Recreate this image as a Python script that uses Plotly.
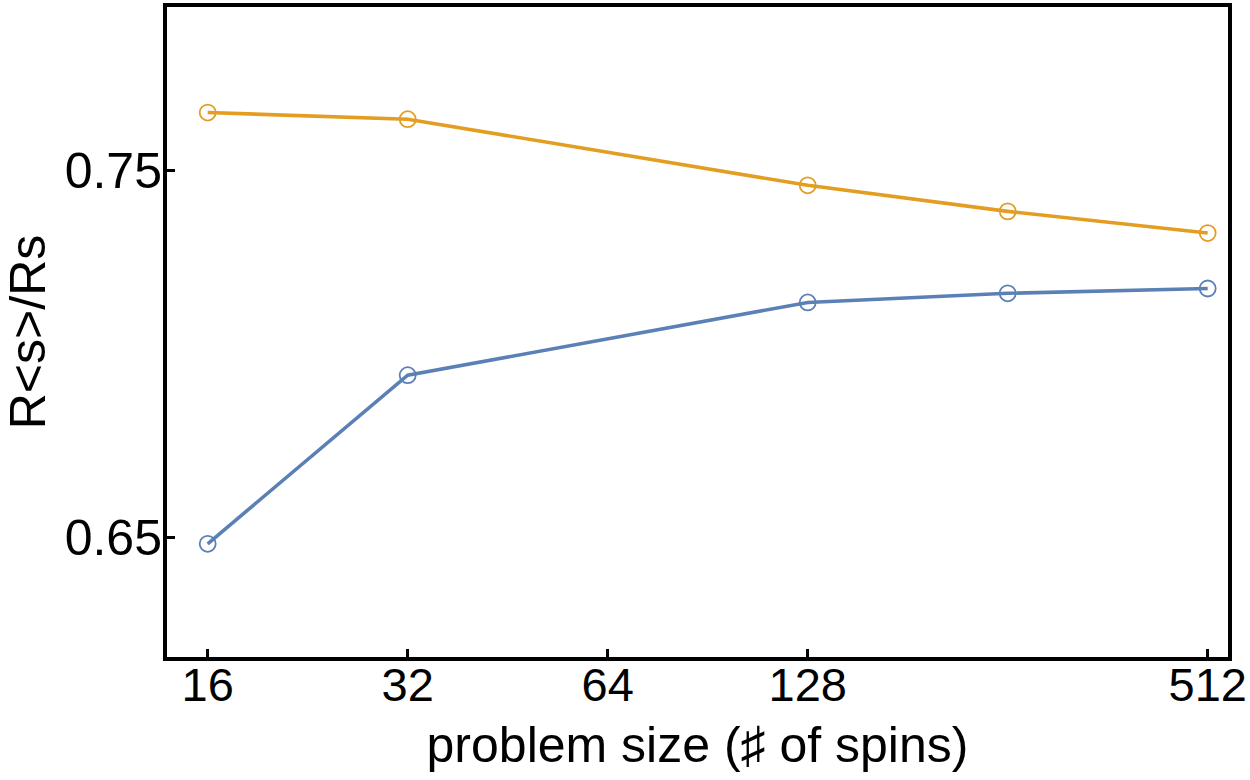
import math
import plotly.graph_objects as go

sizes = [16, 32, 128, 256, 512]
orange_vals = [0.7657, 0.7639, 0.7459, 0.7388, 0.7329]
blue_vals = [0.6483, 0.6942, 0.7140, 0.7165, 0.7178]
x_tickvals = [16, 32, 64, 128, 512]
x_ticktext = ["16", "32", "64", "128", "512"]
y_tickvals = [0.65, 0.75]
y_ticktext = ["0.65", "0.75"]

orange = "#E39E21"
blue = "#5B80B6"
font = "Liberation Sans, Arial, sans-serif"

fig = go.Figure()
for vals, col in [(orange_vals, orange), (blue_vals, blue)]:
    fig.add_trace(go.Scatter(
        x=sizes, y=vals, mode="lines+markers",
        line=dict(color=col, width=3.6),
        marker=dict(symbol="circle-open", size=16, color=col, line=dict(width=1.8, color=col)),
        showlegend=False,
    ))

fig.update_layout(
    width=1250, height=780,
    margin=dict(l=167, r=22, t=3, b=123),
    paper_bgcolor="white", plot_bgcolor="white",
    font=dict(family=font, color="black", size=47),
)
fig.update_xaxes(
    type="log", range=[3.7965 * math.log10(2), 9.1015 * math.log10(2)],
    tickvals=x_tickvals, ticktext=x_ticktext,
    ticks="inside", ticklen=8, tickwidth=3, tickcolor="black",
    showline=True, linewidth=4, linecolor="black", mirror=True,
    showgrid=False, zeroline=False,
    tickfont=dict(size=47), ticklabelstandoff=-16,
    title=dict(text="problem size (\u266f of spins)", font=dict(size=50), standoff=18),
)
fig.update_yaxes(
    range=[0.61748, 0.79444],
    tickvals=y_tickvals, ticktext=y_ticktext,
    ticks="inside", ticklen=8, tickwidth=3, tickcolor="black",
    showline=True, linewidth=4, linecolor="black", mirror=True,
    showgrid=False, zeroline=False,
    tickfont=dict(size=50), ticklabelstandoff=-9,
    title=dict(text="R&lt;s&gt;/Rs", font=dict(size=50), standoff=10),
)

fig.write_html("out.html")
